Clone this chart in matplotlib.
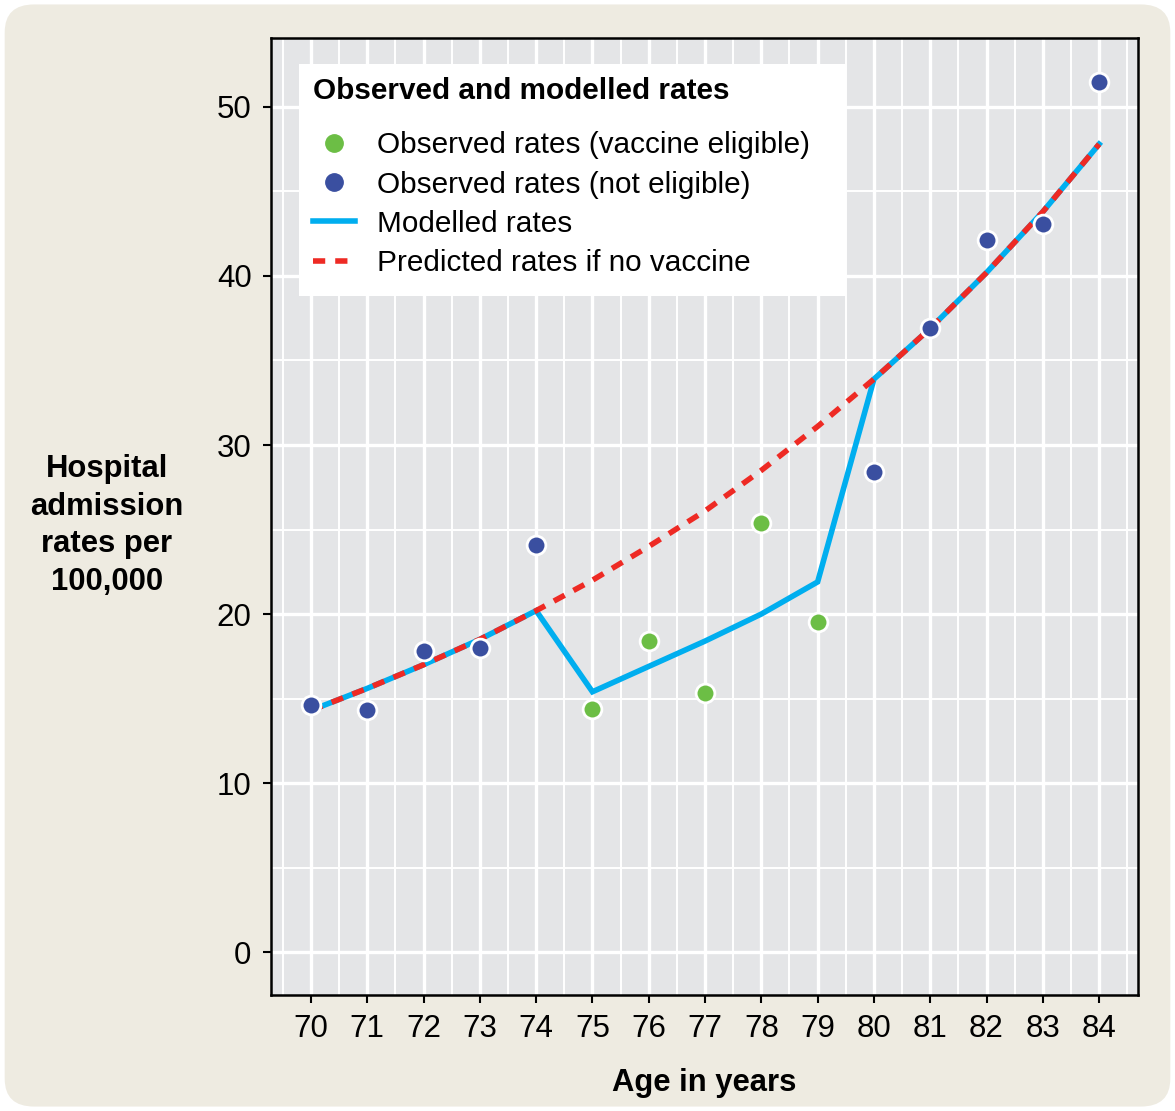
import matplotlib.pyplot as plt
from matplotlib.patches import FancyBboxPatch, Rectangle
from matplotlib.lines import Line2D
import numpy as np

plt.rcParams['font.family'] = ['Liberation Sans', 'DejaVu Sans']

ages = [70, 71, 72, 73, 74, 75, 76, 77, 78, 79, 80, 81, 82, 83, 84]
observed = [14.6, 14.3, 17.8, 18.0, 24.1, 14.4, 18.4, 15.3, 25.4, 19.5, 28.4, 36.9, 42.1, 43.1, 51.5]
eligible = [False, False, False, False, False, True, True, True, True, True,
            False, False, False, False, False]
modelled = [14.3, 15.6, 17.0, 18.5, 20.2, 15.4, 16.9, 18.4, 20.0, 21.9, 33.9, 36.9, 40.2, 43.8, 47.8]
predicted = [14.3, 15.6, 17.0, 18.5, 20.2, 22.0, 24.0, 26.1, 28.5, 31.1, 33.9, 36.9, 40.2, 43.8, 47.8]

beige = '#EEEBE1'
green = '#6CBE45'
navy = '#3A4FA0'
cyan = '#00AEEF'
red = '#EE2A24'

fig = plt.figure(figsize=(11.75, 11.11), dpi=100)
fig.patch.set_facecolor('white')
fig.patches.append(FancyBboxPatch((0.004, 0.004), 0.992, 0.992,
                                  boxstyle='round,pad=0,rounding_size=0.025',
                                  transform=fig.transFigure, facecolor=beige,
                                  edgecolor='none', zorder=-10))

ax = fig.add_axes([0.2306, 0.1044, 0.7379, 0.8614])
ax.set_facecolor('#E4E5E7')
ax.set_xlim(69.29, 84.69)
ax.set_ylim(-2.54, 54.08)

ax.set_xticks(ages)
ax.set_xticks(np.arange(69.5, 85, 1.0), minor=True)
ax.set_yticks([0, 10, 20, 30, 40, 50])
ax.set_yticks([5, 15, 25, 35, 45], minor=True)
ax.grid(which='major', color='white', linewidth=2.4)
ax.grid(which='minor', color='white', linewidth=1.4)
ax.set_axisbelow(True)
ax.tick_params(which='major', direction='out', length=6, width=1.5,
               labelsize=22.5, color='black', pad=8)
ax.tick_params(which='minor', length=0)
for s in ax.spines.values():
    s.set_linewidth(1.8)
    s.set_color('black')

ax.plot(ages, modelled, color=cyan, linewidth=4, zorder=3, solid_joinstyle='miter')
ax.plot(ages, predicted, color=red, linewidth=4, dashes=(2.2, 1.8), zorder=4)

obs = np.array(observed)
elig = np.array(eligible)
x = np.array(ages)
ax.plot(x[~elig], obs[~elig], 'o', color=navy, markersize=13.5,
        markeredgecolor='white', markeredgewidth=2, zorder=5, clip_on=False)
ax.plot(x[elig], obs[elig], 'o', color=green, markersize=13.5,
        markeredgecolor='white', markeredgewidth=2, zorder=5)

ax.set_xlabel('Age in years', fontsize=22.3, fontweight='bold', labelpad=17)
fig.text(0.091, 0.527, 'Hospital\nadmission\nrates per\n100,000', ha='center',
         va='center', fontsize=22.3, fontweight='bold', linespacing=1.33)

# white legend panel (wider than its content, as in the original)
ax.add_patch(Rectangle((0.0323, 0.7304), 0.6309, 0.2424, transform=ax.transAxes,
                       facecolor='white', edgecolor='none', zorder=5.5))

handles = [
    Line2D([], [], linestyle='none', marker='o', color=green, markersize=12.5),
    Line2D([], [], linestyle='none', marker='o', color=navy, markersize=12.5),
    Line2D([], [], color=cyan, linewidth=4),
    Line2D([], [], color=red, linewidth=4, dashes=(2.2, 1.8)),
]
labels = ['Observed rates (vaccine eligible)', 'Observed rates (not eligible)',
          'Modelled rates', 'Predicted rates if no vaccine']
leg = ax.legend(handles, labels, loc='upper left', bbox_to_anchor=(0.0285, 0.978),
                title='Observed and modelled rates', fontsize=21.4,
                title_fontproperties={'weight': 'bold', 'size': 21.4},
                alignment='left', frameon=False, handlelength=1.4,
                handletextpad=0.75, labelspacing=0.38, borderpad=0.6,
                borderaxespad=0)
leg._legend_box.sep = 19
leg.set_zorder(6)

fig.savefig('out.png', dpi=100, facecolor=fig.get_facecolor())
